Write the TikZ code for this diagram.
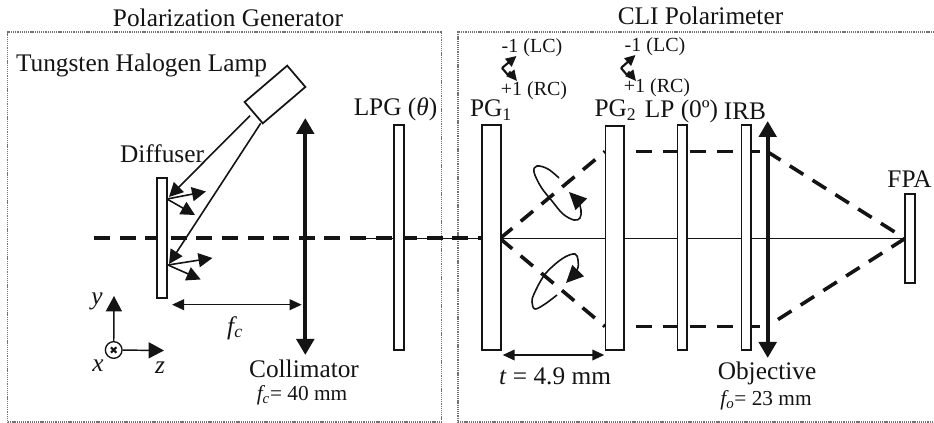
\documentclass[tikz,border=0pt]{standalone}
\usepackage{fontspec}
\setmainfont{Liberation Serif}
\usetikzlibrary{arrows.meta}
\definecolor{ink}{gray}{0.08}
\tikzset{
  lbl/.style={inner sep=0pt,text=ink,font=\fontsize{19}{22}\selectfont},
  sml/.style={inner sep=0pt,text=ink,font=\fontsize{15}{16}\selectfont},
  smf/.style={inner sep=0pt,text=ink,font=\fontsize{16}{19}\selectfont},
  grp/.style={draw=black!55,line width=.8pt,dash pattern=on .8pt off .6pt},
  plate/.style={draw=ink,fill=white,line width=1.3pt},
  axisdash/.style={draw=ink,line width=3pt,dash pattern=on 12pt off 7.2pt},
  beam/.style={draw=ink,line width=2.7pt,dash pattern=on 12pt off 8.2pt},
  thinline/.style={draw=ink,line width=1pt},
  tri/.style={-{Triangle[length=11.5pt,width=12pt]},draw=ink,fill=ink,line width=1.1pt},
  ray/.style={-{Triangle[length=10.5pt,width=10.5pt]},draw=ink,fill=ink,line width=1.2pt},
  lens/.style={{Triangle[length=12pt,width=13pt]}-{Triangle[length=12pt,width=13pt]},draw=ink,line width=3pt},
  dim/.style={{Triangle[length=9pt,width=8pt]}-{Triangle[length=9pt,width=8pt]},draw=ink,line width=1.2pt},
  wig/.style={-{Triangle[length=8pt,width=7.5pt]},draw=ink,line width=1.6pt}
}
\begin{document}
\begin{tikzpicture}[x=.75pt,y=-.75pt]
\useasboundingbox (0,0) rectangle (934,423);
\clip (0,0) rectangle (934,423);
% group frames
\node[grp,minimum width=325pt,minimum height=292.5pt,inner sep=0pt] (gen) at (224.5,227) {};
\coordinate (cliA) at (936,32);\coordinate (cliB) at (458,32);
\coordinate (cliC) at (458,422);\coordinate (cliD) at (936,422);
\draw[grp] (cliA) -- (cliB) -- (cliC) -- (cliD);
% free ends of axis
\coordinate (axL) at (94,238.5);
\coordinate (axT) at (350,238.5);
\coordinate (pgOne) at (482,238.5);
\coordinate (fpaW) at (905,238.5);
\coordinate (pgExit) at (500,238.5);
\draw[thinline] (axT) -- (fpaW);
\draw[axisdash] (axL) -- (pgOne);
% beams
\coordinate (uA) at (605,151.5);\coordinate (uB) at (609,151.5);\coordinate (uC) at (767,151.5);
\coordinate (lA) at (605,326.5);\coordinate (lB) at (609,326.5);\coordinate (lC) at (767,326.5);
\draw[beam] (pgExit) -- (uA);
\draw[beam] (pgExit) -- (lA);
\draw[beam] (uB) -- (uC);
\draw[beam] (lB) -- (lC);
\draw[beam] (uC) -- (fpaW);
\draw[beam] (fpaW) -- (lC);
% plates
\node[plate,minimum width=7pt,minimum height=89.5pt,inner sep=0pt] (diff) at (162,238) {};
\node[plate,minimum width=7pt,minimum height=168.5pt,inner sep=0pt] (lpg) at (399,237.5) {};
\node[plate,minimum width=14pt,minimum height=168.5pt,inner sep=0pt] (pga) at (491.3,237.5) {};
\node[plate,minimum width=14pt,minimum height=168.5pt,inner sep=0pt] (pgb) at (614.7,238) {};
\node[plate,minimum width=7pt,minimum height=168.5pt,inner sep=0pt] (lp) at (682.2,237.5) {};
\node[plate,minimum width=7pt,minimum height=168.5pt,inner sep=0pt] (irb) at (746.2,237.5) {};
\node[plate,minimum width=7.5pt,minimum height=67pt,inner sep=0pt] (fpa) at (910,238.7) {};
% lenses
\coordinate (colT) at (305.3,118);\coordinate (colB) at (305.3,355);
\coordinate (objT) at (767.7,121);\coordinate (objB) at (767.7,358);
\draw[lens] (colB) -- (colT);
\draw[lens] (objB) -- (objT);
% lamp
\node[plate,rotate=-49.5,minimum width=21pt,minimum height=42pt,inner sep=0pt] (lamp) at (275,94.5) {};
% rays
\coordinate (rA) at (250,115.7);\coordinate (rAe) at (169,197);
\coordinate (rB) at (260.7,123.3);\coordinate (rBe) at (169,264);
\draw[ray] (rA) -- (rAe);
\draw[ray] (rB) -- (rBe);
\coordinate (sA) at (167,199);\coordinate (sAa) at (206,191.5);\coordinate (sAb) at (195,215);
\coordinate (sB) at (168,265);\coordinate (sBa) at (212.5,258);\coordinate (sBb) at (200.7,279.5);
\draw[ray] (sA) -- (sAa);
\draw[ray] (sA) -- (sAb);
\draw[ray] (sB) -- (sBa);
\draw[ray] (sB) -- (sBb);
% dimension arrows
\coordinate (fL) at (172,304.7);\coordinate (fR) at (301.7,304.7);
\draw[dim] (fL) -- (fR);
\coordinate (tL) at (502.7,355);\coordinate (tR) at (604.3,355);
\draw[dim] (tL) -- (tR);
% coordinate axes
\node[circle,draw=ink,line width=1pt,fill=white,minimum size=12.5pt,inner sep=0pt] (org) at (113.7,350) {};
\coordinate (yTip) at (114,296);\coordinate (zTip) at (164,350.5);
\draw[tri] (org) -- (yTip);
\draw[tri] (org) -- (zTip);
\draw[ink,line width=1.6pt] (111,347.3) -- (116.4,352.7) (111,352.7) -- (116.4,347.3);
% polarization ellipses
\draw[ink,line width=1.2pt,-{Triangle[length=13pt,width=12pt]}]
  plot[smooth,tension=.6] coordinates {(559,178)(548,169)(537,166)(534,172)(541,187)(552,201)(563,214)(574,220)(580,218)(581,210)(578,202)(569,192)};
\draw[ink,line width=1.2pt,-{Triangle[length=13pt,width=12pt]}]
  plot[smooth,tension=.6] coordinates {(557,295)(545,304)(535,309)(532,302)(534,294)(543,277)(553,266)(565,257)(575,254)(578,260)(577,270)(566,283)};
% wiggly arrows
\coordinate (wA) at (502,68);\coordinate (wAt) at (516.5,56);\coordinate (wAm) at (508,75);\coordinate (wAn) at (510,72.5);\coordinate (wAb) at (517,81);
\draw[wig] (wA) -- (wAt);
\draw[wig,line join=miter] (wA) -- (wAm) -- (wAn) -- (wAb);
\coordinate (wB) at (621,68);\coordinate (wBt) at (635.5,55);\coordinate (wBm) at (627,75);\coordinate (wBn) at (629,72.5);\coordinate (wBb) at (636,81);
\draw[wig] (wB) -- (wBt);
\draw[wig,line join=miter] (wB) -- (wBm) -- (wBn) -- (wBb);
% labels
\node[lbl] (tGen) at (228,18) {Polarization Generator};
\node[lbl] (tCli) at (700.5,16) {CLI Polarimeter};
\node[lbl] (tLamp) at (141.5,65) {Tungsten Halogen Lamp};
\node[lbl] (tDiff) at (162,154) {Diffuser};
\node[lbl] (tLpg) at (395.5,109) {LPG (\textit{θ})};
\node[lbl] (tPga) at (491,110) {PG\textsubscript{1}};
\node[lbl] (tPgb) at (615.5,110) {PG\textsubscript{2}};
\node[lbl] (tLp) at (681.5,111) {LP (0º)};
\node[lbl] (tIrb) at (745,111) {IRB};
\node[lbl] (tFpa) at (909.5,179) {FPA};
\node[lbl] (tCol) at (304,369) {Collimator};
\node[lbl] (tObj) at (767,373) {Objective};
\node[lbl] (tT) at (555,376) {\textit{t} = 4.9 mm};
\node[lbl] (tF) at (235,328) {\textit{f\textsubscript{c}}};
\node[smf] (tFc) at (302,395) {\textit{f\textsubscript{c}}= 40 mm};
\node[smf] (tFo) at (766,400) {\textit{f\textsubscript{o}}= 23 mm};
\node[sml] (mA) at (532,48) {-1 (LC)};
\node[sml] (pA) at (534,91) {+1 (RC)};
\node[sml] (mB) at (655,47) {-1 (LC)};
\node[sml] (pB) at (657,88) {+1 (RC)};
\node[lbl,font=\fontsize{19}{22}\itshape] (ty) at (97,301) {y};
\node[lbl,font=\fontsize{19}{22}\itshape] (tx) at (98,366) {x};
\node[lbl,font=\fontsize{19}{22}\itshape] (tz) at (160,368) {z};
\end{tikzpicture}
\end{document}
